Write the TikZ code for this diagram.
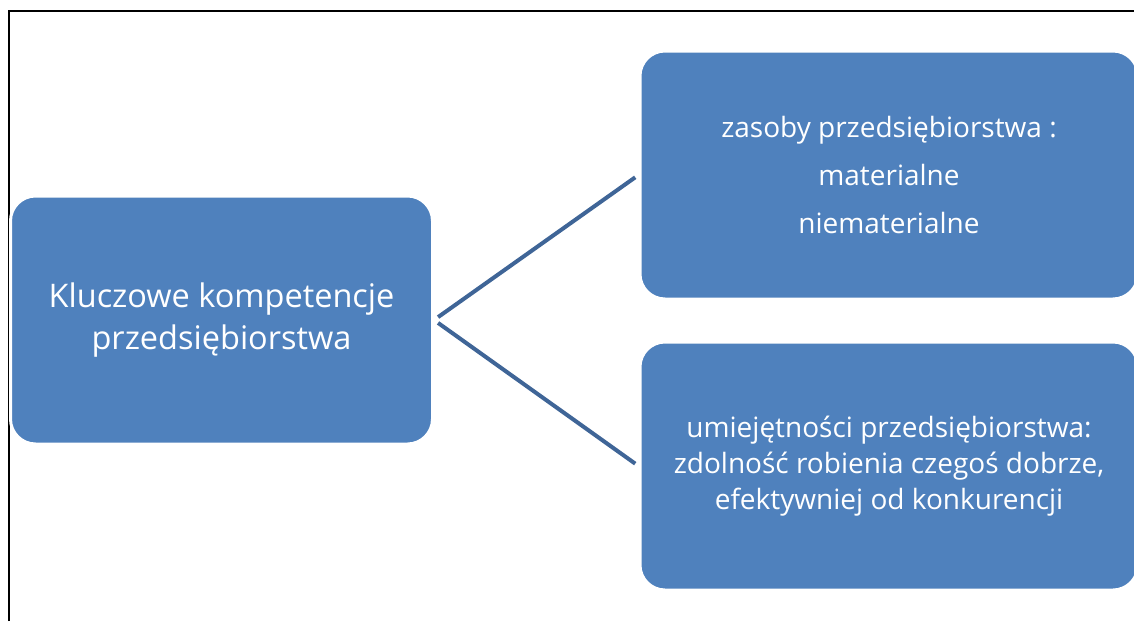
\documentclass[tikz,border=0pt]{standalone}
\usepackage{fontspec}
\setmainfont{Open Sans}
\usetikzlibrary{positioning}
\definecolor{boxblue}{HTML}{4F81BD}
\definecolor{lineblue}{HTML}{3F6597}

\begin{document}
\begin{tikzpicture}[x=1pt, y=-1pt]

	\tikzset{
	box/.style={fill=boxblue, draw=white, line width=3pt, rounded corners=25pt, inner sep=0pt, align=center, text=white},
	link/.style={draw=lineblue, line width=4pt, shorten <=5pt, shorten >=4pt}
	}

	\useasboundingbox (0,0) rectangle (1134,621);

	% Frame
	\coordinate (frame_left) at (9,621);
	\coordinate (frame_corner) at (9,11);
	\coordinate (frame_right) at (1140,11);
	\draw[line width=2.5pt] (frame_left) -- (frame_corner) -- (frame_right);

	% Nodes
	\node[box, minimum width=422pt, minimum height=248pt, font=\fontsize{32.5}{42}\selectfont] (core) at (221.5,320) {Kluczowe kompetencje\\przedsiębiorstwa};
	\node[box, minimum width=498pt, minimum height=248pt, font=\fontsize{28}{48}\selectfont] (resources) at (889,175) {zasoby przedsiębiorstwa :\\materialne\\niematerialne};
	\node[box, minimum width=498pt, minimum height=248pt, font=\fontsize{28}{36}\selectfont] (skills) at (889,466) {umiejętności przedsiębiorstwa:\\zdolność robienia czegoś dobrze,\\efektywniej od konkurencji};

	% Lines
	\draw[link] (core.east) -- (resources.west);
	\draw[link] (core.east) -- (skills.west);

\end{tikzpicture}
\end{document}
